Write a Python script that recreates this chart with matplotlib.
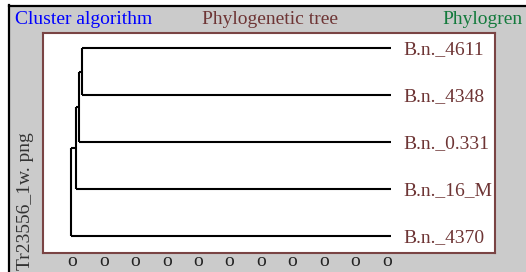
import matplotlib
matplotlib.use("Agg")
import matplotlib.pyplot as plt
from matplotlib.patches import Rectangle
from matplotlib.lines import Line2D

# ---- data ----
leaves = ["B.n._4611", "B.n._4348", "B.n._0.331", "B.n._16_M", "B.n._4370"]
# merges: (child_a, child_b, height); children index leaves (0..4) or clusters (5..)
merges = [(0, 1, 9.69), (5, 2, 9.79), (6, 3, 9.90), (7, 4, 10.06)]
leaf_height = -0.14
tick_values = [0, 1, 2, 3, 4, 5, 6, 7, 8, 9, 10]
tick_labels = ["o"] * 11
title_left = "Cluster algorithm"
title_mid = "Phylogenetic tree"
title_right = "Phylogren"
ylabel = "Tr23556_1w. png"

W, H = 526, 272
plt.rcParams["font.family"] = ["Liberation Serif", "DejaVu Serif"]
fig = plt.figure(figsize=(W / 100, H / 100), dpi=100, facecolor="white")

def fx(px):
    return px / W

def fy(py):
    return 1 - py / H

FS = 14

# gray panel and black frame lines
fig.patches.append(Rectangle((fx(10), 0), 1 - fx(10), fy(6), transform=fig.transFigure,
                             facecolor="#cbcbcb", edgecolor="none", zorder=-5))
fig.lines.append(Line2D([fx(9), 1], [fy(5.5), fy(5.5)], transform=fig.transFigure,
                        color="black", lw=1.6, zorder=-4))
fig.lines.append(Line2D([fx(9.5), fx(9.5)], [0, fy(5)], transform=fig.transFigure,
                        color="black", lw=1.6, zorder=-4))

brown = "#6e3535"
ax = fig.add_axes([fx(43), fy(253), fx(495) - fx(43), fy(33) - fy(253)])
ax.set_zorder(2)
ax.set_facecolor("white")
for s in ax.spines.values():
    s.set_color("#7a4444")
    s.set_linewidth(1.5)

# dendrogram
ypos = {i: float(i) for i in range(len(leaves))}
hpos = {i: leaf_height for i in range(len(leaves))}
for k, (a, b, h) in enumerate(merges):
    node = len(leaves) + k
    for c in (a, b):
        ax.plot([hpos[c], h], [ypos[c], ypos[c]], color="black", lw=1.5, solid_capstyle="butt")
    ax.plot([h, h], [ypos[a], ypos[b]], color="black", lw=1.5, solid_capstyle="butt")
    ypos[node] = (ypos[a] + ypos[b]) / 2
    hpos[node] = h

for i, name in enumerate(leaves):
    ax.annotate(name, (leaf_height, i), xytext=(8.6, 0), textcoords="offset points",
                ha="left", va="center_baseline", color=brown, fontsize=FS)

ax.set_xlim(10.94, -3.45)
ax.set_ylim(4.36, -0.32)
ax.set_yticks([])
ax.set_xticks(tick_values)
ax.set_xticklabels(tick_labels, fontsize=FS, color="#222222")
ax.tick_params(axis="x", length=0, pad=0)

fig.text(fx(15), fy(19), title_left, color="#0000ff", fontsize=FS, ha="left", va="center")
fig.text(fx(270), fy(19), title_mid, color=brown, fontsize=FS, ha="center", va="center")
fig.text(fx(523), fy(19), title_right, color="#137a3c", fontsize=FS, ha="right", va="center")
fig.text(fx(25), fy(201), ylabel, color="#333333", fontsize=FS, rotation=90,
         ha="center", va="center")

fig.savefig("out.png", dpi=100, facecolor="white")
